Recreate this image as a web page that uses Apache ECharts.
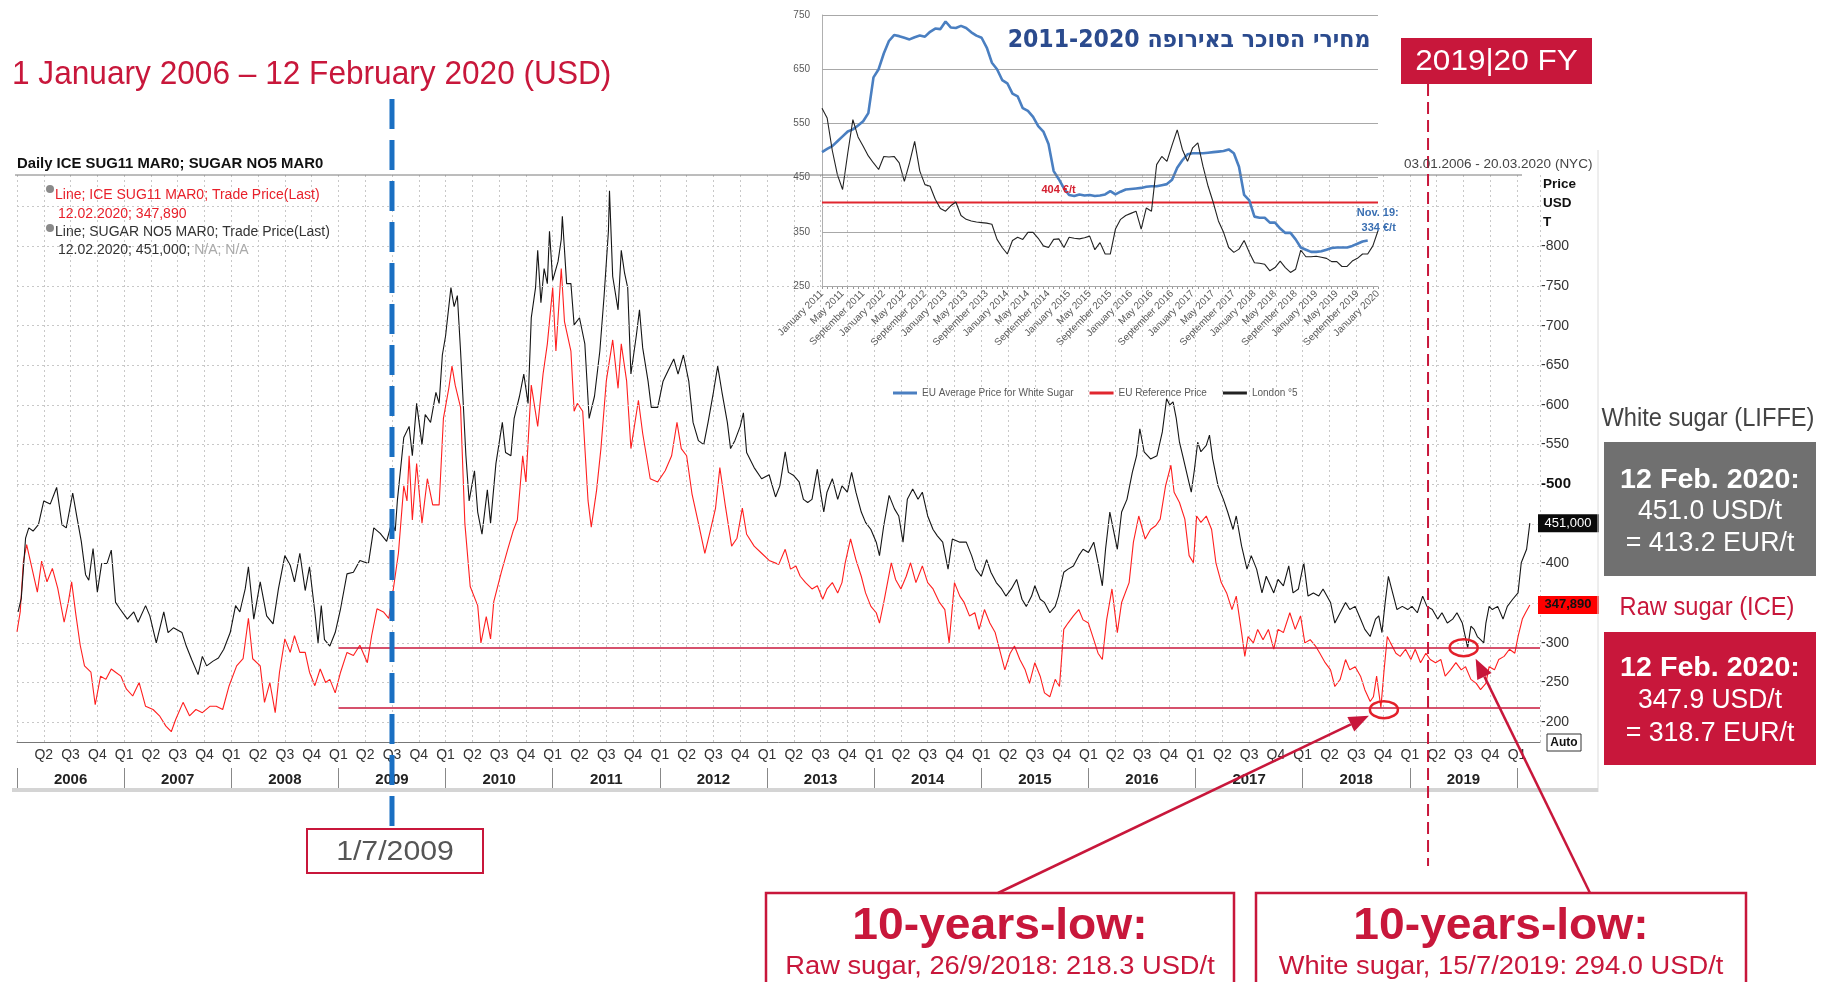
<!DOCTYPE html>
<html>
<head>
<meta charset="utf-8">
<title>Sugar prices 2006-2020</title>
<script src="https://cdn.jsdelivr.net/npm/echarts@6.0.0/dist/echarts.min.js"></script>
<style>
  html, body { margin: 0; padding: 0; background: #fff; }
  #chart { width: 1825px; height: 982px; }
</style>
</head>
<body>
<div id="chart"></div>
<script>
// main chart: x is a decimal year, y is USD per tonne
var xStart = 2006
var xEnd = 2020.215 // 20.03.2020

var rawSugar = [
  [2006.00,314],[2006.03,339],[2006.06,403],[2006.09,424],[2006.14,394],[2006.19,364],[2006.23,403],[2006.28,377],[2006.33,394],[2006.38,369],
  [2006.44,326],[2006.48,352],[2006.51,377],[2006.55,335],[2006.59,297],[2006.63,271],[2006.69,263],[2006.73,222],[2006.78,258],[2006.83,254],
  [2006.88,267],[2006.92,263],[2006.97,258],[2007.02,242],[2007.08,233],[2007.14,250],[2007.20,220],[2007.27,216],[2007.33,208],[2007.39,195],
  [2007.44,188],[2007.48,203],[2007.55,225],[2007.61,208],[2007.67,216],[2007.73,212],[2007.80,220],[2007.86,220],[2007.92,216],[2007.98,246],
  [2008.05,271],[2008.11,280],[2008.16,331],[2008.20,280],[2008.27,271],[2008.31,225],[2008.36,250],[2008.41,212],[2008.45,263],[2008.50,305],
  [2008.55,288],[2008.59,309],[2008.64,288],[2008.69,288],[2008.73,263],[2008.78,246],[2008.83,267],[2008.88,250],[2008.92,254],[2008.97,237],
  [2009.02,263],[2009.08,288],[2009.14,284],[2009.20,297],[2009.27,275],[2009.31,309],[2009.36,343],[2009.42,339],[2009.47,331],[2009.50,356],
  [2009.52,375],[2009.56,413],[2009.61,498],[2009.64,479],[2009.66,536],[2009.69,455],[2009.73,526],[2009.78,451],[2009.83,507],[2009.88,474],
  [2009.94,474],[2009.98,583],[2010.03,621],[2010.06,649],[2010.09,625],[2010.14,597],[2010.18,451],[2010.23,371],[2010.30,347],[2010.33,300],
  [2010.38,333],[2010.42,305],[2010.45,352],[2010.52,389],[2010.58,418],[2010.63,441],[2010.67,455],[2010.72,536],[2010.75,503],[2010.80,625],
  [2010.86,573],[2010.91,639],[2010.95,677],[2011.00,748],[2011.03,668],[2011.08,772],[2011.11,705],[2011.17,668],[2011.20,592],[2011.23,602],
  [2011.28,592],[2011.33,479],[2011.36,446],[2011.41,493],[2011.45,545],[2011.50,630],[2011.56,682],[2011.61,621],[2011.64,677],[2011.69,630],
  [2011.73,545],[2011.80,606],[2011.84,564],[2011.91,507],[2011.98,503],[2012.05,517],[2012.11,536],[2012.16,578],[2012.20,545],[2012.25,536],
  [2012.30,488],[2012.36,451],[2012.42,413],[2012.47,441],[2012.52,470],[2012.56,521],[2012.61,474],[2012.67,422],[2012.72,432],[2012.77,470],
  [2012.81,437],[2012.88,422],[2012.95,413],[2013.02,404],[2013.11,399],[2013.17,418],[2013.22,393],[2013.27,397],[2013.31,384],[2013.36,376],
  [2013.42,368],[2013.47,372],[2013.52,355],[2013.56,368],[2013.61,376],[2013.66,363],[2013.70,376],[2013.73,401],[2013.78,431],[2013.83,405],
  [2013.88,384],[2013.92,363],[2013.97,346],[2014.02,338],[2014.05,325],[2014.09,351],[2014.16,401],[2014.20,380],[2014.25,368],[2014.30,384],
  [2014.34,401],[2014.39,376],[2014.45,397],[2014.50,376],[2014.55,368],[2014.61,351],[2014.66,342],[2014.70,300],[2014.75,376],[2014.80,359],
  [2014.84,351],[2014.89,334],[2014.94,338],[2014.98,317],[2015.03,342],[2015.08,325],[2015.13,313],[2015.17,292],[2015.22,266],[2015.27,287],
  [2015.31,296],[2015.36,279],[2015.41,266],[2015.45,249],[2015.50,275],[2015.55,258],[2015.59,237],[2015.64,232],[2015.69,254],[2015.73,245],
  [2015.77,317],[2015.81,325],[2015.86,334],[2015.91,342],[2015.95,329],[2016.00,325],[2016.05,304],[2016.09,287],[2016.13,279],[2016.17,329],
  [2016.22,368],[2016.27,313],[2016.31,351],[2016.38,376],[2016.42,427],[2016.47,460],[2016.53,431],[2016.58,443],[2016.63,448],[2016.67,456],
  [2016.72,498],[2016.77,524],[2016.80,490],[2016.85,477],[2016.90,456],[2016.94,410],[2016.98,401],[2017.01,460],[2017.05,452],[2017.10,460],
  [2017.15,443],[2017.19,401],[2017.24,376],[2017.29,363],[2017.34,342],[2017.38,359],[2017.43,313],[2017.46,283],[2017.49,308],[2017.54,300],
  [2017.58,317],[2017.63,304],[2017.68,317],[2017.73,292],[2017.77,317],[2017.82,313],[2017.88,338],[2017.93,317],[2017.98,334],[2018.02,300],
  [2018.07,304],[2018.12,296],[2018.16,287],[2018.21,275],[2018.26,266],[2018.30,245],[2018.35,254],[2018.40,279],[2018.44,266],[2018.49,270],
  [2018.54,258],[2018.58,241],[2018.63,226],[2018.66,232],[2018.69,258],[2018.73,218.3],[2018.76,266],[2018.79,308],[2018.82,300],[2018.87,287],
  [2018.91,283],[2018.96,292],[2019.01,279],[2019.05,292],[2019.10,275],[2019.15,287],[2019.19,279],[2019.24,275],[2019.29,279],[2019.33,258],
  [2019.38,266],[2019.43,275],[2019.48,266],[2019.52,270],[2019.57,254],[2019.62,249],[2019.66,241],[2019.71,249],[2019.74,270],[2019.79,266],
  [2019.83,279],[2019.88,283],[2019.93,292],[2019.98,287],[2020.01,308],[2020.05,330],[2020.08,338],[2020.12,347.89]
]

var whiteSugar = [
  [2006.01,339],[2006.04,356],[2006.08,432],[2006.11,445],[2006.15,441],[2006.20,449],[2006.25,479],[2006.31,475],[2006.37,496],[2006.42,449],
  [2006.46,445],[2006.52,489],[2006.56,458],[2006.60,428],[2006.64,386],[2006.67,379],[2006.71,419],[2006.75,364],[2006.79,400],[2006.84,400],
  [2006.88,417],[2006.92,351],[2006.96,343],[2007.03,330],[2007.09,339],[2007.13,326],[2007.20,347],[2007.24,334],[2007.30,300],[2007.37,339],
  [2007.41,313],[2007.46,319],[2007.54,313],[2007.58,296],[2007.63,279],[2007.69,260],[2007.73,283],[2007.77,271],[2007.83,277],[2007.88,281],
  [2007.93,292],[2007.99,313],[2008.04,347],[2008.08,339],[2008.13,368],[2008.16,396],[2008.21,330],[2008.27,377],[2008.33,334],[2008.39,324],
  [2008.44,368],[2008.50,410],[2008.55,398],[2008.59,377],[2008.64,413],[2008.69,366],[2008.73,396],[2008.78,339],[2008.81,300],[2008.84,347],
  [2008.87,304],[2008.92,296],[2008.97,313],[2009.02,343],[2009.08,387],[2009.14,389],[2009.20,404],[2009.28,400],[2009.33,445],[2009.39,438],
  [2009.45,428],[2009.50,453],[2009.53,441],[2009.55,479],[2009.61,559],[2009.66,573],[2009.69,536],[2009.73,602],[2009.78,550],[2009.81,588],
  [2009.86,578],[2009.91,616],[2009.94,602],[2009.97,663],[2010.00,687],[2010.05,748],[2010.08,724],[2010.11,738],[2010.14,668],[2010.19,536],
  [2010.22,479],[2010.27,517],[2010.30,465],[2010.34,437],[2010.39,493],[2010.42,451],[2010.47,526],[2010.53,578],[2010.56,540],[2010.61,536],
  [2010.64,583],[2010.69,611],[2010.73,639],[2010.77,602],[2010.80,710],[2010.84,748],[2010.86,795],[2010.89,729],[2010.92,772],[2010.95,753],
  [2010.97,819],[2011.00,757],[2011.05,781],[2011.08,809],[2011.09,838],[2011.13,753],[2011.17,753],[2011.20,701],[2011.25,710],[2011.30,677],
  [2011.34,583],[2011.39,611],[2011.44,668],[2011.48,738],[2011.52,819],[2011.53,870],[2011.56,762],[2011.61,720],[2011.64,795],[2011.67,767],
  [2011.70,748],[2011.73,639],[2011.78,687],[2011.81,720],[2011.84,672],[2011.89,630],[2011.92,597],[2011.98,597],[2012.03,630],[2012.08,644],
  [2012.13,658],[2012.17,639],[2012.22,663],[2012.27,630],[2012.31,578],[2012.36,555],[2012.41,550],[2012.45,578],[2012.50,616],[2012.54,649],
  [2012.58,616],[2012.63,578],[2012.66,545],[2012.70,555],[2012.75,573],[2012.78,590],[2012.81,540],[2012.88,521],[2012.95,507],[2013.02,512],
  [2013.08,484],[2013.12,498],[2013.17,541],[2013.20,515],[2013.25,511],[2013.30,503],[2013.34,481],[2013.38,477],[2013.42,481],[2013.47,519],
  [2013.50,490],[2013.53,465],[2013.56,490],[2013.61,507],[2013.66,481],[2013.70,498],[2013.75,490],[2013.79,515],[2013.83,490],[2013.88,465],
  [2013.92,452],[2013.97,443],[2014.02,427],[2014.05,410],[2014.09,448],[2014.14,486],[2014.19,469],[2014.23,460],[2014.27,427],[2014.31,481],
  [2014.36,494],[2014.41,481],[2014.45,490],[2014.50,460],[2014.55,443],[2014.59,435],[2014.64,427],[2014.69,393],[2014.73,431],[2014.80,427],
  [2014.86,427],[2014.91,410],[2014.95,393],[2015.00,384],[2015.05,405],[2015.09,389],[2015.14,376],[2015.19,368],[2015.23,359],[2015.28,368],
  [2015.33,380],[2015.38,355],[2015.42,346],[2015.47,359],[2015.50,372],[2015.55,355],[2015.59,351],[2015.64,338],[2015.69,346],[2015.72,359],
  [2015.77,389],[2015.81,393],[2015.86,397],[2015.91,410],[2015.95,418],[2016.00,414],[2016.05,427],[2016.09,401],[2016.13,372],[2016.16,418],
  [2016.20,465],[2016.27,418],[2016.31,465],[2016.36,481],[2016.41,515],[2016.45,536],[2016.48,570],[2016.52,541],[2016.58,532],[2016.64,536],
  [2016.69,566],[2016.73,608],[2016.76,600],[2016.79,604],[2016.82,583],[2016.85,553],[2016.88,536],[2016.93,507],[2016.96,490],[2016.99,519],
  [2017.02,553],[2017.05,541],[2017.10,549],[2017.13,562],[2017.16,532],[2017.21,498],[2017.26,481],[2017.30,465],[2017.35,443],[2017.38,460],
  [2017.43,422],[2017.48,393],[2017.52,410],[2017.57,393],[2017.62,363],[2017.66,384],[2017.73,363],[2017.77,380],[2017.82,372],[2017.87,397],
  [2017.91,363],[2017.96,368],[2018.01,401],[2018.05,359],[2018.10,363],[2018.15,359],[2018.19,368],[2018.26,351],[2018.30,325],[2018.35,338],
  [2018.40,351],[2018.44,342],[2018.49,346],[2018.54,330],[2018.58,317],[2018.63,308],[2018.68,330],[2018.71,334],[2018.74,313],[2018.77,351],
  [2018.80,384],[2018.83,368],[2018.88,342],[2018.93,346],[2018.98,342],[2019.02,346],[2019.07,338],[2019.12,359],[2019.16,346],[2019.21,342],
  [2019.26,330],[2019.30,338],[2019.35,325],[2019.40,330],[2019.44,338],[2019.49,325],[2019.54,294],[2019.57,321],[2019.60,317],[2019.63,308],
  [2019.66,304],[2019.69,300],[2019.71,325],[2019.74,346],[2019.77,342],[2019.82,346],[2019.87,330],[2019.91,346],[2019.96,355],[2020.01,363],
  [2020.04,401],[2020.09,418],[2020.12,451]
]

var rawLow = [2018.73, 218.3]     // 26/9/2018
var whiteLow = [2019.54, 294.0]   // 15/7/2019
var lowLinesFrom = 2009.0
var dateMarker = 2009.5           // 1/7/2009
var fyMarker = 2019.17
var lastRaw = 347.89
var lastWhite = 451.0

var quarterNames = ['Q1', 'Q2', 'Q3', 'Q4']
var yearStarts = [2006, 2007, 2008, 2009, 2010, 2011, 2012, 2013, 2014, 2015, 2016, 2017, 2018, 2019, 2020]
var yearMids = [2006.5, 2007.5, 2008.5, 2009.5, 2010.5, 2011.5, 2012.5, 2013.5, 2014.5, 2015.5, 2016.5, 2017.5, 2018.5, 2019.5]
var priceGrid = [200, 250, 300, 350, 400, 450, 500, 550, 600, 650, 700, 750, 800, 850]

// inset: EU sugar prices, monthly, EUR per tonne
var monthNames = ['January', 'February', 'March', 'April', 'May', 'June', 'July', 'August', 'September', 'October', 'November', 'December']
var insetMonths = []
for (var yy = 2011; yy <= 2020; yy++) {
  for (var mm = 0; mm < 12; mm++) {
    if (yy === 2020 && mm > 0) break
    insetMonths.push(monthNames[mm] + ' ' + yy)
  }
}
var euAverage = [
  497, 503, 508, 517, 526, 535, 539, 546, 554, 569, 635, 650,
  679, 702, 713, 711, 708, 705, 709, 712, 710, 719, 725, 724,
  738, 727, 726, 730, 726, 718, 712, 708, 690, 662, 650, 630,
  624, 605, 600, 578, 573, 562, 545, 535, 512, 462, 447, 430,
  418, 416, 419, 417, 418, 416, 417, 419, 425, 419, 424, 428,
  429, 430, 431, 433, 434, 434, 436, 438, 446, 468, 482, 493,
  495, 495, 495, 496, 497, 498, 499, 502, 495, 470, 418, 408,
  378, 376, 376, 367, 367, 356, 348, 348, 336, 321, 317, 313,
  313, 314, 317, 320, 321, 321, 321, 324, 328, 332, 334
]
var londonNo5 = [
  578, 560, 500, 455, 428, 495, 557, 525, 508, 490, 477, 465,
  489, 488, 489, 477, 443, 477, 517, 462, 437, 434, 410, 393,
  388, 398, 405, 380, 373, 370, 368, 367, 366, 364, 336, 321,
  309, 334, 340, 336, 349, 349, 338, 324, 321, 336, 337, 321,
  340, 338, 337, 339, 342, 317, 330, 309, 309, 355, 373, 380,
  384, 388, 355, 394, 388, 474, 489, 480, 510, 538, 502, 480,
  505, 514, 471, 434, 404, 370, 349, 321, 312, 318, 334, 312,
  293, 292, 290, 278, 284, 296, 284, 275, 281, 316, 304, 304,
  305, 303, 301, 295, 295, 286, 286, 296, 301, 309, 309, 324,
  352
]
var euReferencePrice = 404
var insetGrid = [250, 350, 450, 550, 650, 750]

var CRIMSON = '#c8173b'
var FONT = 'Liberation Sans'

var chart = echarts.init(document.getElementById('chart'))

var option = {
  animation: false,
  backgroundColor: '#fff',
  textStyle: { fontFamily: FONT },
  legend: {
    data: ['EU Average Price for White Sugar', 'EU Reference Price', 'London °5'],
    left: 888,
    top: 383,
    icon: 'rect',
    itemWidth: 24,
    itemHeight: 3,
    itemGap: 16,
    textStyle: { fontSize: 10, color: '#595959', fontFamily: FONT }
  },
  grid: [
    { left: 17, right: 285, top: 175, bottom: 240 },
    { left: 822, right: 447, top: 15, bottom: 696 }
  ],
  xAxis: [
    {
      type: 'value', gridIndex: 0, min: xStart, max: xEnd, interval: 0.25,
      axisLine: { lineStyle: { color: '#777' } },
      axisTick: { show: false },
      axisLabel: {
        fontSize: 14, color: '#333', margin: 6,
        formatter: function (v) {
          if (Math.abs(v * 4 - Math.round(v * 4)) > 1e-6 || Math.abs(v - xStart) < 1e-6) return ''
          return quarterNames[Math.round((v - Math.floor(v + 1e-6)) * 4) % 4]
        }
      },
      splitLine: { show: true, lineStyle: { color: '#c8c8c8', type: [2, 3] } }
    },
    {
      type: 'value', gridIndex: 0, min: xStart, max: xEnd, position: 'bottom', offset: 26,
      axisLine: { show: false },
      axisTick: { show: true, length: 22, customValues: yearStarts, lineStyle: { color: '#888' } },
      axisLabel: {
        customValues: yearMids, fontSize: 15, fontWeight: 'bold', color: '#222', margin: 4,
        formatter: function (v) { return String(Math.floor(v)) }
      },
      splitLine: { show: false }
    },
    {
      type: 'category', gridIndex: 1, data: insetMonths, boundaryGap: false,
      axisLine: { lineStyle: { color: '#9a9a9a' } },
      axisTick: { show: true, interval: 0, length: 3, lineStyle: { color: '#9a9a9a' } },
      axisLabel: { interval: 3, rotate: 45, fontSize: 10, color: '#595959', margin: 6 },
      splitLine: { show: false }
    }
  ],
  yAxis: [
    {
      type: 'value', gridIndex: 0, position: 'right', min: 175, max: 890, interval: 25,
      axisLine: { show: false },
      axisTick: { show: false },
      axisLabel: {
        margin: 1, fontSize: 14, color: '#333',
        formatter: function (v) {
          if (v % 50 !== 0 || v < 200 || v > 800) return ''
          return v === 500 ? '{b|-500}' : '-' + v
        },
        rich: { b: { fontSize: 15, fontWeight: 'bold', color: '#111' } }
      },
      splitLine: { show: false }
    },
    {
      type: 'value', gridIndex: 1, min: 250, max: 750, interval: 50,
      axisLine: { show: true, lineStyle: { color: '#b0b0b0' } },
      axisTick: { show: false },
      axisLabel: {
        fontSize: 10, color: '#595959', margin: 12,
        formatter: function (v) { return (v - 250) % 100 === 0 ? String(v) : '' }
      },
      splitLine: { show: false }
    }
  ],
  series: [
    {
      name: 'gridlines', type: 'line', xAxisIndex: 0, yAxisIndex: 0, data: [], z: 1, silent: true,
      markLine: {
        silent: true, symbol: ['none', 'none'], label: { show: false },
        lineStyle: { color: '#c8c8c8', type: [2, 3], width: 1 },
        data: priceGrid.map(function (v) { return { yAxis: v } })
      }
    },
    {
      name: 'ICE SUG11 MAR0', type: 'line', xAxisIndex: 0, yAxisIndex: 0, data: rawSugar,
      showSymbol: false, z: 3, lineStyle: { color: '#ff1f1f', width: 1.1 }, color: '#ff1f1f',
      markLine: {
        silent: true, symbol: ['none', 'none'], label: { show: false },
        lineStyle: { color: CRIMSON, width: 1.5, type: 'solid' },
        data: [
          [{ coord: [lowLinesFrom, whiteLow[1]] }, { coord: [xEnd, whiteLow[1]] }],
          [{ coord: [lowLinesFrom, rawLow[1]] }, { coord: [xEnd, rawLow[1]] }]
        ]
      }
    },
    {
      name: 'SUGAR NO5 MAR0', type: 'line', xAxisIndex: 0, yAxisIndex: 0, data: whiteSugar,
      showSymbol: false, z: 4, lineStyle: { color: '#151515', width: 1.1 }, color: '#151515'
    },
    {
      name: 'insetGrid', type: 'line', xAxisIndex: 2, yAxisIndex: 1, data: [], z: 1, silent: true,
      markLine: {
        silent: true, symbol: ['none', 'none'], label: { show: false },
        lineStyle: { color: '#a8a8a8', type: 'solid', width: 1.2 },
        data: insetGrid.map(function (v) { return { yAxis: v } })
      }
    },
    {
      name: 'EU Reference Price', type: 'line', xAxisIndex: 2, yAxisIndex: 1,
      data: [[0, euReferencePrice], [insetMonths.length - 1, euReferencePrice]],
      showSymbol: false, z: 5, lineStyle: { color: '#e0262f', width: 2 }, color: '#e0262f'
    },
    {
      name: 'EU Average Price for White Sugar', type: 'line', xAxisIndex: 2, yAxisIndex: 1, data: euAverage,
      showSymbol: false, z: 6, lineStyle: { color: '#4a7fc1', width: 2.6 }, color: '#4a7fc1'
    },
    {
      name: 'London °5', type: 'line', xAxisIndex: 2, yAxisIndex: 1, data: londonNo5,
      showSymbol: false, z: 7, lineStyle: { color: '#222', width: 1.1 }, color: '#222'
    }
  ]
}
chart.setOption(option)

// annotations placed from the chart's own scales
function mainPx (x, y) { return chart.convertToPixel({ xAxisIndex: 0, yAxisIndex: 0 }, [x, y]) }
function insetPx (i, v) { return chart.convertToPixel({ xAxisIndex: 2, yAxisIndex: 1 }, [i, v]) }

function txt (x, y, text, font, fill, align, sx) {
  return {
    type: 'text', x: x, y: y, z: 100, scaleX: sx || 1,
    style: { text: text, font: font, fill: fill, align: align || 'left', verticalAlign: 'middle' }
  }
}
function line (x1, y1, x2, y2, stroke, w, dash) {
  return { type: 'line', z: 99, shape: { x1: x1, y1: y1, x2: x2, y2: y2 }, style: { stroke: stroke, lineWidth: w, lineDash: dash || null } }
}
function box (x, y, w, h, fill, stroke, lw) {
  return { type: 'rect', z: 98, shape: { x: x, y: y, width: w, height: h }, style: { fill: fill, stroke: stroke || null, lineWidth: lw || 0 } }
}
function arrow (x1, y1, x2, y2) {
  var a = Math.atan2(y2 - y1, x2 - x1), L = 20, W = 8
  var bx = x2 - L * Math.cos(a), by = y2 - L * Math.sin(a)
  return [
    line(x1, y1, bx, by, CRIMSON, 2.5),
    { type: 'polygon', z: 101, shape: { points: [[x2, y2], [bx + W * Math.sin(a), by - W * Math.cos(a)], [bx - W * Math.sin(a), by + W * Math.cos(a)]] }, style: { fill: CRIMSON } }
  ]
}

var blueX = mainPx(dateMarker, 500)[0]
var fyX = mainPx(fyMarker, 500)[0]
var rawC = mainPx(rawLow[0], rawLow[1])
var whiteC = mainPx(whiteLow[0], whiteLow[1])
var tagW = mainPx(xEnd, lastWhite)
var tagR = mainPx(xEnd, lastRaw)
var refPt = insetPx(44, euReferencePrice)
var novPt = insetPx(euAverage.length - 1, euAverage[euAverage.length - 1])

var g = []
// chart frame pieces
g.push(line(15, 175, 1522, 175, '#7a7a7a', 1))
g.push(line(1598, 150, 1598, 792, '#dcdcdc', 1))
g.push(line(12, 790, 1598, 790, '#d4d4d4', 4))
g.push(txt(17, 164, 'Daily ICE SUG11 MAR0; SUGAR NO5 MAR0', 'bold 15px ' + FONT, '#111', 'left', 0.99))
g.push(txt(1404, 164, '03.01.2006 - 20.03.2020 (NYC)', '13.5px ' + FONT, '#444'))
g.push(txt(1543, 184, 'Price', 'bold 13.5px ' + FONT, '#111'))
g.push(txt(1543, 203, 'USD', 'bold 13.5px ' + FONT, '#111'))
g.push(txt(1543, 222, 'T', 'bold 13.5px ' + FONT, '#111'))
g.push(box(1547, 734, 34, 17, '#fff', '#333', 1))
g.push(txt(1564, 742.5, 'Auto', 'bold 12px ' + FONT, '#111', 'center'))

// series legend, top left
g.push({ type: 'circle', z: 100, shape: { cx: 50, cy: 189, r: 4 }, style: { fill: '#8a8a8a' } })
g.push({ type: 'circle', z: 100, shape: { cx: 50, cy: 228, r: 4 }, style: { fill: '#8a8a8a' } })
g.push(txt(55, 195, 'Line; ICE SUG11 MAR0; Trade Price(Last)', '14px ' + FONT, '#e8202a', 'left', 1.0))
g.push(txt(58, 214, '12.02.2020; 347,890', '14px ' + FONT, '#e8202a'))
g.push(txt(55, 232, 'Line; SUGAR NO5 MAR0; Trade Price(Last)', '14px ' + FONT, '#333', 'left', 1.0))
g.push({
  type: 'text', x: 58, y: 250, z: 100,
  style: {
    text: '12.02.2020; 451,000; {n|N/A; N/A}', font: '14px ' + FONT, fill: '#333', verticalAlign: 'middle',
    rich: { n: { fill: '#aaa', font: '14px ' + FONT } }
  }
})

// last value tags on the price axis
g.push(box(tagW[0] - 2, tagW[1] - 9, 61, 18, '#0a0a0a'))
g.push(txt(tagW[0] + 28, tagW[1], '451,000', '13px ' + FONT, '#fff', 'center'))
g.push(box(tagR[0] - 2, tagR[1] - 9, 61, 18, '#ff0000'))
g.push(txt(tagR[0] + 28, tagR[1], '347,890', 'bold 13px ' + FONT, '#111', 'center'))

// title and period marker
g.push(txt(12, 75, '1 January 2006 – 12 February 2020 (USD)', '34px ' + FONT, CRIMSON, 'left', 0.93))
g.push(line(blueX, 99, blueX, 826, '#1a6fc2', 5, [30, 11]))
g.push(box(307, 829, 176, 44, '#fff', CRIMSON, 2))
g.push(txt(395, 852, '1/7/2009', '28px ' + FONT, '#555', 'center', 1.08))

// fiscal year marker
g.push(line(fyX, 84, fyX, 866, CRIMSON, 2, [12, 6]))
g.push(box(1401, 38, 191, 46, CRIMSON))
g.push(txt(1496.5, 62, '2019|20 FY', '30px ' + FONT, '#fff', 'center', 1.05))

// ten year lows
g.push({ type: 'ellipse', z: 100, shape: { cx: rawC[0] + 3, cy: rawC[1] + 2, rx: 14, ry: 8.5 }, style: { fill: 'none', stroke: '#e3202a', lineWidth: 2.5 } })
g.push({ type: 'ellipse', z: 100, shape: { cx: whiteC[0] - 4, cy: whiteC[1], rx: 14, ry: 8.5 }, style: { fill: 'none', stroke: '#e3202a', lineWidth: 2.5 } })
g = g.concat(arrow(998, 893, rawC[0] - 12, rawC[1] + 8))
g = g.concat(arrow(1590, 893, whiteC[0] + 8, whiteC[1] + 11))
g.push(box(766, 893, 468, 110, '#fff', CRIMSON, 2.5))
g.push(box(1256, 893, 490, 110, '#fff', CRIMSON, 2.5))
g.push(txt(1000, 927, '10-years-low:', 'bold 44px ' + FONT, CRIMSON, 'center', 1.05))
g.push(txt(1000, 967, 'Raw sugar, 26/9/2018: 218.3 USD/t', '26px ' + FONT, CRIMSON, 'center', 1.05))
g.push(txt(1501, 927, '10-years-low:', 'bold 44px ' + FONT, CRIMSON, 'center', 1.05))
g.push(txt(1501, 967, 'White sugar, 15/7/2019: 294.0 USD/t', '26px ' + FONT, CRIMSON, 'center', 1.05))

// right hand price boxes
g.push(txt(1708, 419, 'White sugar (LIFFE)', '26px ' + FONT, '#444', 'center', 0.91))
g.push(box(1604, 442, 212, 134, '#707070'))
g.push(txt(1710, 481, '12 Feb. 2020:', 'bold 27px ' + FONT, '#fff', 'center', 1.06))
g.push(txt(1710, 512, '451.0 USD/t', '27px ' + FONT, '#fff', 'center', 0.98))
g.push(txt(1710, 544, '= 413.2 EUR/t', '27px ' + FONT, '#fff', 'center', 0.99))
g.push(txt(1707, 608, 'Raw sugar (ICE)', '26px ' + FONT, CRIMSON, 'center', 0.91))
g.push(box(1604, 632, 212, 133, CRIMSON))
g.push(txt(1710, 669, '12 Feb. 2020:', 'bold 27px ' + FONT, '#fff', 'center', 1.06))
g.push(txt(1710, 701, '347.9 USD/t', '27px ' + FONT, '#fff', 'center', 0.98))
g.push(txt(1710, 734, '= 318.7 EUR/t', '27px ' + FONT, '#fff', 'center', 0.99))

// inset labels
g.push(txt(1189, 41, '2011-2020 מחירי הסוכר באירופה', 'bold 24px DejaVu Sans', '#2b4b8e', 'center', 0.92))
g.push(txt(refPt[0] + 10, refPt[1] - 13, '404 €/t', 'bold 11px ' + FONT, '#d42030', 'center'))
g.push(txt(novPt[0] + 10, novPt[1] - 28, 'Nov. 19:', 'bold 11px ' + FONT, '#3a6fb2', 'center'))
g.push(txt(novPt[0] + 11, novPt[1] - 13, '334 €/t', 'bold 11px ' + FONT, '#3a6fb2', 'center'))

chart.setOption({ graphic: { elements: g } })
</script>
</body>
</html>
